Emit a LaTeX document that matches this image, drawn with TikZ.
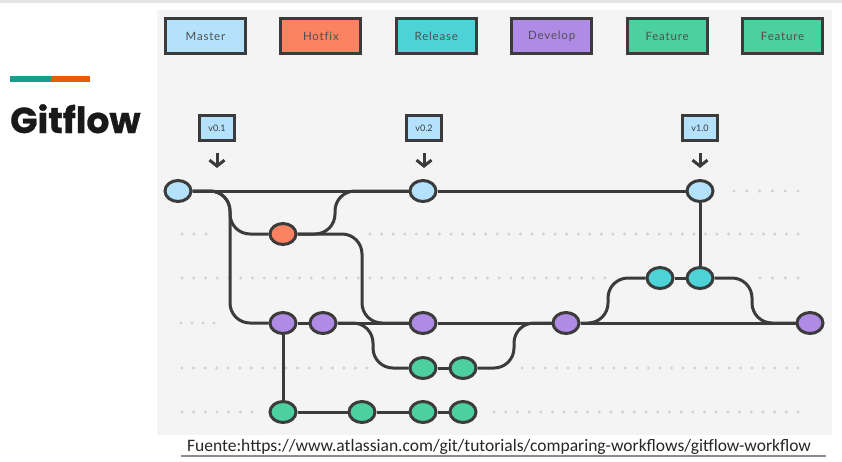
\documentclass[tikz,border=0pt]{standalone}
\usepackage{fontspec}
\setmainfont{Lato}
\newfontfamily\titlefont{Poppins}[BoldFeatures={FakeBold=0.8}]
\newfontfamily\srcfont{Carlito}
\usetikzlibrary{shapes.geometric,arrows.meta}
\definecolor{edge}{HTML}{3B3B3B}
\definecolor{panel}{HTML}{F4F4F4}
\definecolor{dotc}{HTML}{D2D2D2}
\definecolor{master}{HTML}{B4E2FD}
\definecolor{hotfix}{HTML}{FD8262}
\definecolor{release}{HTML}{4DD3D7}
\definecolor{develop}{HTML}{B08BE6}
\definecolor{feature}{HTML}{4CD09F}
\definecolor{accentA}{HTML}{1A9C8C}
\definecolor{accentB}{HTML}{E85A0E}
\begin{document}
\begin{tikzpicture}[x=1pt,y=-1pt,
		commit/.style={draw=edge,ellipse,line width=3pt,minimum width=26pt,minimum height=21pt,inner sep=0pt},
		lanebox/.style={draw=edge,line width=3pt,minimum width=80pt,minimum height=35pt,inner sep=0pt,text=edge!90,font=\addfontfeatures{LetterSpace=7,Ligatures=NoCommon}\fontsize{11.5}{13}\selectfont},
		tag/.style={draw=edge,fill=master,line width=3pt,minimum width=35pt,minimum height=25pt,inner sep=0pt,text=edge,font=\fontsize{9}{11}\selectfont},
		branch/.style={draw=edge,line width=3pt,rounded corners=20pt},
		tagarrow/.style={draw=edge,line width=3pt,-{Straight Barb[length=6pt,width=15pt]},shorten <=11pt,shorten >=23pt}]
			\useasboundingbox (0,0) rectangle (842,461);
			\fill[black!10] (0,0) rectangle (842,2.5);
			\fill[panel] (157,10) rectangle (832,435);
			\fill[accentA] (10,76) rectangle (51,81.5);
			\fill[accentB] (51,76) rectangle (90,81.5);
			\node[anchor=base west,inner sep=0pt,text=black!90,font=\titlefont\bfseries\fontsize{36}{40}\selectfont] (title) at (10,133) {Gitflow};
			%
			\node[lanebox,fill=master]  (hMaster)   at (205.5,36) {Master};
			\node[lanebox,fill=hotfix]  (hHotfix)   at (320.9,36) {Hotfix};
			\node[lanebox,fill=release] (hRelease)  at (436.3,36) {Release};
			\node[lanebox,fill=develop] (hDevelop)  at (551.7,36) {Develop};
			\node[lanebox,fill=feature] (hFeatureA) at (667.1,36) {Feature};
			\node[lanebox,fill=feature] (hFeatureB) at (782.5,36) {Feature};
			%
			\def\dotrows {191/734/798/6, 234/182/206/3, 234/370/798/38, 278/182/605/37, 278/760/798/4, 323/181/214/4, 368/182/367/17, 368/522/798/25, 412/182/252/7, 412/494/798/27}  % dotted rows
			\foreach \yy/\a/\b/\n in \dotrows
			{	\pgfmathsetmacro\gap{(\b-\a)/(\n-1)}
				\foreach \i in {1,...,\n} \fill[dotc] (\a+\gap*\i-\gap,\yy) circle (1.7pt);
			}
			%
			\node[commit,fill=master]  (M1) at (178,191) {};
			\node[commit,fill=master]  (M2) at (423,191) {};
			\node[commit,fill=master]  (M3) at (700,191) {};
			\node[commit,fill=hotfix]  (H1) at (283,234) {};
			\node[commit,fill=release] (R1) at (660,278) {};
			\node[commit,fill=release] (R2) at (700,278) {};
			\node[commit,fill=develop] (D1) at (283,323) {};
			\node[commit,fill=develop] (D2) at (323,323) {};
			\node[commit,fill=develop] (D3) at (423,323) {};
			\node[commit,fill=develop] (D4) at (566,323) {};
			\node[commit,fill=develop] (D5) at (810,323) {};
			\node[commit,fill=feature] (F1) at (423,368) {};
			\node[commit,fill=feature] (F2) at (463,368) {};
			\node[commit,fill=feature] (G1) at (283,412) {};
			\node[commit,fill=feature] (G2) at (362,412) {};
			\node[commit,fill=feature] (G3) at (423,412) {};
			\node[commit,fill=feature] (G4) at (463,412) {};
			%
			\node[tag] (t1) at (217,128) {v0.1};
			\node[tag] (t2) at (424,128) {v0.2};
			\node[tag] (t3) at (700,128) {v1.0};
			\foreach \t/\c in {t1/M1, t2/M2, t3/M3}
			{	\draw[tagarrow] (\t) -- (\t |- \c);
			}
			%
			\coordinate (lA) at (230,0);
			\coordinate (lB) at (335,0);
			\coordinate (lC) at (362,0);
			\coordinate (lD) at (373,0);
			\coordinate (lE) at (514,0);
			\coordinate (lF) at (608,0);
			\coordinate (lG) at (752,0);
			\def\straight {M1/M2, M2/M3, D1/D2, D2/D3, D3/D4, D4/D5, F1/F2, G1/G2, G2/G3, G3/G4, R1/R2, R2/M3, D1/G1}  % straight edges
			\foreach \u/\v in \straight
			{	\draw[edge,line width=3pt] (\u) -- (\v);
			}
			\def\bends {M1/lA/D1, M1/lA/H1, H1/lB/M2, H1/lC/D3, D2/lD/F1, F2/lE/D4, D4/lF/R1, R2/lG/D5}  % merges and forks
			\foreach \u/\l/\v in \bends
			{	\draw[branch] (\u) -- (\u -| \l) -- (\v -| \l) -- (\v);
			}
			%
			\node[anchor=base west,text=black!85,font=\srcfont\fontsize{17.5}{20}\selectfont,inner sep=0pt] (src) at (187,451) {Fuente:https://www.atlassian.com/git/tutorials/comparing-workflows/gitflow-workflow};
			\draw[black!45,line width=1.5pt] (181,456) -- (826,456);
		\end{tikzpicture}
\end{document}
